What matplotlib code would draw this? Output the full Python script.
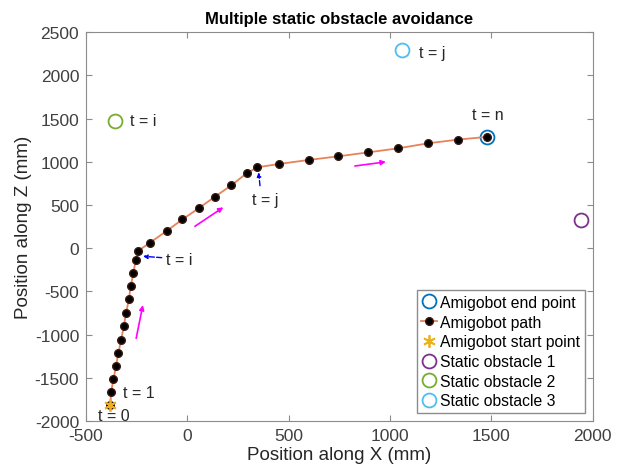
import numpy as np
import matplotlib.pyplot as plt

plt.rcParams['font.family'] = ['Liberation Sans', 'DejaVu Sans']
plt.rcParams['axes.unicode_minus'] = False

# Траектория Amigobot (мм)
path_x = [-380, -377, -365, -352, -341, -327, -314, -303, -289, -280, -267, -255, -244,
          -185, -101, -25, 58, 136, 216, 292, 345, 450, 598, 744, 892, 1040, 1188, 1333, 1480]
path_z = [-1820, -1668, -1514, -1360, -1213, -1059, -904, -750, -591, -440, -287, -136, -32,
          64, 203, 333, 467, 597, 728, 867, 937, 975, 1022, 1064, 1110, 1157, 1215, 1257, 1290]

start_pt = (-380, -1820)
end_pt = (1480, 1290)

# Статические препятствия
obst_x = [1940, -355, 1060]
obst_z = [330, 1475, 2290]
obst_names = ['Static obstacle 1', 'Static obstacle 2', 'Static obstacle 3']
obst_colors = ['#7E2F8E', '#77AC30', '#4DBEEE']

# Стрелки направления движения (начало, конец)
dir_arrows = [((-253, -1043), (-220, -658)),
              ((37, 254), (177, 474)),
              ((826, 952), (979, 1000))]

# Подписи моментов времени: (текст, x, z)
time_labels = [('t = 0', -442, -1938), ('t = 1', -317, -1665),
               ('t = n', 1484, 1554), ('t = i', -285, 1477), ('t = j', 1143, 2268)]

fig = plt.figure(figsize=(6.24, 4.77), dpi=100)
ax = fig.add_axes([0.138, 0.1153, 0.812, 0.8149])

ax.plot(end_pt[0], end_pt[1], 'o', mfc='none', mec='#0072BD', ms=10, mew=1.3,
        label='Amigobot end point')
ax.plot(path_x, path_z, '-', color='#E8825A', lw=1.3, marker='o', mfc='black',
        mec='#3a1a10', ms=5.5, label='Amigobot path')
ax.plot(start_pt[0], start_pt[1], marker=(6, 2, 0), ls='none', color='#EDB120', ms=9,
        mew=1.3, label='Amigobot start point')
for ox, oz, name, c in zip(obst_x, obst_z, obst_names, obst_colors):
    ax.plot(ox, oz, 'o', mfc='none', mec=c, ms=10, mew=1.3, label=name)

for (x0, z0), (x1, z1) in dir_arrows:
    ax.annotate('', xy=(x1, z1), xytext=(x0, z0),
                arrowprops=dict(arrowstyle='-|>', color='magenta', lw=1.2,
                                mutation_scale=7, shrinkA=0, shrinkB=0))

# Синие стрелки t = i и t = j на траектории
ax.annotate('', xy=(-219, -93), xytext=(-127, -109),
            arrowprops=dict(arrowstyle='-|>', color='blue', lw=1.0, ls='--',
                            mutation_scale=6, shrinkA=0, shrinkB=0))
ax.text(-106, -136, 't = i', fontsize=11.5, va='center', ha='left', color='#262626')
ax.annotate('', xy=(351, 879), xytext=(358, 724),
            arrowprops=dict(arrowstyle='-|>', color='blue', lw=1.0, ls='--',
                            mutation_scale=6, shrinkA=0, shrinkB=0))
ax.text(317, 570, 't = j', fontsize=11.5, va='center', ha='left', color='#262626')

for txt, tx, tz in time_labels:
    ha = 'center' if txt == 't = n' else 'left'
    ax.text(tx, tz, txt, fontsize=11.5, va='center', ha=ha, color='#262626')

ax.set_xlim(-500, 2000)
ax.set_ylim(-2000, 2500)
ax.set_xticks(np.arange(-500, 2001, 500))
ax.set_yticks(np.arange(-2000, 2501, 500))
ax.tick_params(direction='in', top=True, right=True, labelsize=12.5,
               colors='#8c8c8c', labelcolor='#404040', length=4, pad=5)
for s in ax.spines.values():
    s.set_color('#8c8c8c')
    s.set_linewidth(0.8)

ax.set_xlabel('Position along X (mm)', fontsize=13.5, color='#262626', labelpad=2)
ax.set_ylabel('Position along Z (mm)', fontsize=13.5, color='#262626', labelpad=2)
ax.set_title('Multiple static obstacle avoidance', fontsize=12, fontweight='bold', pad=7)

leg = ax.legend(loc='lower right', fontsize=11.3, handlelength=1.0, handletextpad=0.2,
                borderpad=0.3, labelspacing=0.3, borderaxespad=0.5, fancybox=False,
                framealpha=1, edgecolor='#8c8c8c')

fig.savefig('out.png', dpi=100)
